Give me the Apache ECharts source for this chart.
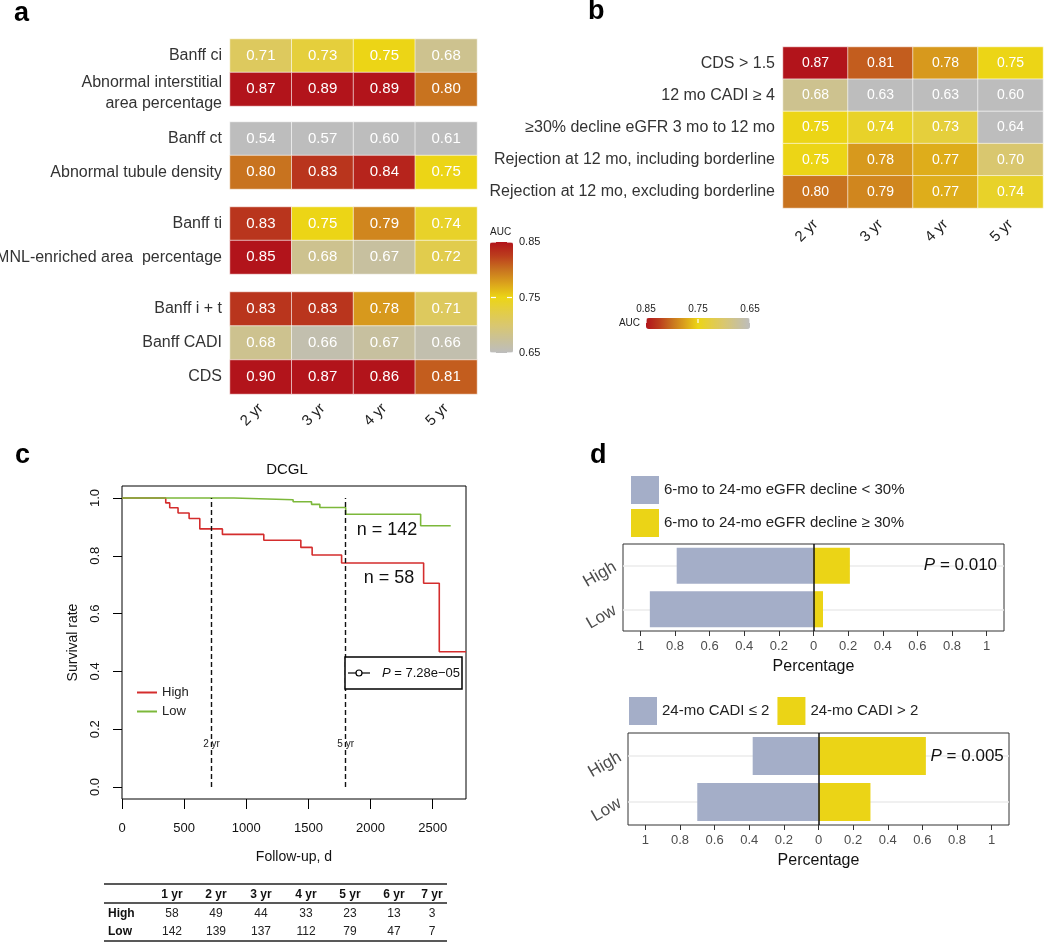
<!DOCTYPE html>
<html><head><meta charset="utf-8">
<script src="https://cdn.jsdelivr.net/npm/echarts@6/dist/echarts.min.js"></script>
<style>html,body{margin:0;padding:0;background:#fff}#c{width:1050px;height:942px}</style>
</head><body><div id="c"></div>
<script>
// ---------------- DATA ----------------
const years = ['2 yr', '3 yr', '4 yr', '5 yr'];
const aRows1 = ['Banff ci', 'Abnormal interstitial\narea percentage'];
const aVals1 = [[0.71, 0.73, 0.75, 0.68], [0.87, 0.89, 0.89, 0.80]];
const aRows2 = ['Banff ct', 'Abnormal tubule density'];
const aVals2 = [[0.54, 0.57, 0.60, 0.61], [0.80, 0.83, 0.84, 0.75]];
const aRows3 = ['Banff ti', 'MNL-enriched area  percentage'];
const aVals3 = [[0.83, 0.75, 0.79, 0.74], [0.85, 0.68, 0.67, 0.72]];
const aRows4 = ['Banff i + t', 'Banff CADI', 'CDS'];
const aVals4 = [[0.83, 0.83, 0.78, 0.71], [0.68, 0.66, 0.67, 0.66], [0.90, 0.87, 0.86, 0.81]];
const bRows = ['CDS > 1.5', '12 mo CADI \u2265 4', '\u226530% decline eGFR 3 mo to 12 mo',
  'Rejection at 12 mo, including borderline', 'Rejection at 12 mo, excluding borderline'];
const bVals = [[0.87, 0.81, 0.78, 0.75], [0.68, 0.63, 0.63, 0.60], [0.75, 0.74, 0.73, 0.64],
  [0.75, 0.78, 0.77, 0.70], [0.80, 0.79, 0.77, 0.74]];
const aucTicks = [0.85, 0.75, 0.65];

const kmHighDays = [0, 352, 384, 451, 540, 626, 808, 1141, 1439, 1530, 1767, 2427, 2553, 2768];
const kmHighSurv = [1, 0.983, 0.966, 0.948, 0.929, 0.893, 0.874, 0.854, 0.829, 0.803, 0.775, 0.705, 0.468, 0.468];
const kmLowDays = [0, 900, 1377, 1525, 1592, 1800, 2403, 2645];
const kmLowSurv = [1, 0.994, 0.987, 0.978, 0.967, 0.944, 0.904, 0.904];
const kmMarkDays = [720, 1800];
const kmMarkLabels = ['2 yr', '5 yr'];
const kmP = '7.28e\u221205';
const kmXTicks = [0, 500, 1000, 1500, 2000, 2500];
const kmYTicks = [0, 0.2, 0.4, 0.6, 0.8, 1.0];
const tableYears = ['1 yr', '2 yr', '3 yr', '4 yr', '5 yr', '6 yr', '7 yr'];
const atRiskHigh = [58, 49, 44, 33, 23, 13, 3];
const atRiskLow = [142, 139, 137, 112, 79, 47, 7];

const dGroups = ['High', 'Low'];
const dTopNames = ['6-mo to 24-mo eGFR decline < 30%', '6-mo to 24-mo eGFR decline \u2265 30%'];
const dTopBelow = [0.79, 0.945];
const dTopAbove = [0.21, 0.055];
const dTopP = '0.010';
const dBotNames = ['24-mo CADI \u2264 2', '24-mo CADI > 2'];
const dBotBelow = [0.38, 0.70];
const dBotAbove = [0.62, 0.30];
const dBotP = '0.005';
const dTicks = [-1, -0.8, -0.6, -0.4, -0.2, 0, 0.2, 0.4, 0.6, 0.8, 1];

// ---------------- STYLE / LAYOUT ----------------
const FONT = '"Liberation Sans", Arial, Helvetica, sans-serif';
const heatColors = ['#bdbdbd', '#cac197', '#d9c76f', '#e3cd45', '#ecd516', '#dba31c', '#c8731f', '#bb3d1d', '#b2141b'];
const AUC_MIN = 0.65, AUC_MAX = 0.85;
const clamp = v => Math.min(AUC_MAX, Math.max(AUC_MIN, v));
const heatData = vals => { const o = []; vals.forEach((row, r) => row.forEach((v, c) => o.push([c, r, v, clamp(v)]))); return o; };

const aGroups = [
  { rows: aRows1, vals: aVals1, top: 39, height: 67 },
  { rows: aRows2, vals: aVals2, top: 122, height: 67 },
  { rows: aRows3, vals: aVals3, top: 207, height: 67 },
  { rows: aRows4, vals: aVals4, top: 292, height: 102 }
];
const RED = '#d42d2d', GREEN = '#7cb83a', BLUE = '#a4aec8', YEL = '#ebd416';

const grids = [], xAxes = [], yAxes = [], series = [];
aGroups.forEach((g, i) => {
  grids.push({ left: 230, top: g.top, width: 247, height: g.height, outerBoundsMode: 'none' });
  xAxes.push({ type: 'category', gridIndex: i, data: years, show: i === 3,
    axisLine: { show: false }, axisTick: { show: false },
    axisLabel: { rotate: 45, fontSize: 15, color: '#222', margin: 12 } });
  yAxes.push({ type: 'category', gridIndex: i, data: g.rows, inverse: true,
    axisLine: { show: false }, axisTick: { show: false },
    axisLabel: { fontSize: 16, color: '#333', margin: 8, lineHeight: 21,
      padding: i === 0 ? [0, 0, 0, 0] : 0,
      formatter: v => v.indexOf('\n') >= 0 ? '{two|' + v.split('\n').join('}\n{two|') + '}' : v,
      rich: { two: { fontSize: 16, color: '#333', lineHeight: 21, padding: [7, 0, 0, 0] } } } });
  series.push({ type: 'heatmap', xAxisIndex: i, yAxisIndex: i, data: heatData(g.vals),
    label: { show: true, color: '#fff', fontSize: 15, formatter: p => p.value[2].toFixed(2) },
    itemStyle: { borderColor: 'rgba(255,255,255,0.6)', borderWidth: 1 }, emphasis: { disabled: true } });
});
// panel b
grids.push({ left: 783, top: 47, width: 260, height: 161, outerBoundsMode: 'none' });
xAxes.push({ type: 'category', gridIndex: 4, data: years, axisLine: { show: false }, axisTick: { show: false },
  axisLabel: { rotate: 45, fontSize: 15, color: '#222', margin: 14 } });
yAxes.push({ type: 'category', gridIndex: 4, data: bRows, inverse: true, axisLine: { show: false }, axisTick: { show: false },
  axisLabel: { fontSize: 16, color: '#333', margin: 8 } });
series.push({ type: 'heatmap', xAxisIndex: 4, yAxisIndex: 4, data: heatData(bVals),
  label: { show: true, color: '#fff', fontSize: 14, formatter: p => p.value[2].toFixed(2) },
  itemStyle: { borderColor: 'rgba(255,255,255,0.6)', borderWidth: 1 }, emphasis: { disabled: true } });

// panel c
grids.push({ left: 122, top: 486, width: 344, height: 313, show: true, borderColor: '#000', borderWidth: 1, outerBoundsMode: 'none' });
xAxes.push({ type: 'value', gridIndex: 5, min: 0, max: 2768, axisLine: { show: false, onZero: false }, splitLine: { show: false },
  axisTick: { show: true, length: 10, lineStyle: { color: '#000' }, customValues: kmXTicks },
  axisLabel: { fontSize: 13, color: '#111', margin: 23, customValues: kmXTicks, formatter: v => String(v) },
  name: 'Follow-up, d', nameLocation: 'middle', nameGap: 51, nameTextStyle: { fontSize: 14, color: '#111' } });
yAxes.push({ type: 'value', gridIndex: 5, min: -0.0415, max: 1.0415, axisLine: { show: false, onZero: false }, splitLine: { show: false },
  axisTick: { show: true, length: 9, lineStyle: { color: '#000' }, customValues: kmYTicks },
  axisLabel: { fontSize: 13, color: '#111', margin: 20, rotate: 90, customValues: kmYTicks, formatter: v => v.toFixed(1) },
  name: 'Survival rate', nameLocation: 'middle', nameGap: 42, nameTextStyle: { fontSize: 14, color: '#111' } });
const zip = (a, b) => a.map((v, i) => [v, b[i]]);
series.push({ type: 'line', name: 'High', xAxisIndex: 5, yAxisIndex: 5, data: zip(kmHighDays, kmHighSurv), step: 'end',
  symbol: 'none', silent: true, lineStyle: { color: RED, width: 1.6 }, itemStyle: { color: RED }, z: 3,
  markPoint: { silent: true, symbol: 'rect', symbolSize: 1, itemStyle: { color: 'rgba(0,0,0,0)' },
    label: { show: true, position: 'inside', formatter: p => p.name, color: '#111', fontSize: 18 },
    data: [{ coord: [2148, 0.723], name: 'n = ' + atRiskHigh[0] }].concat(kmMarkDays.map((d, i) => ({
      coord: [d, 0.149], name: kmMarkLabels[i], label: { fontSize: 10, color: '#222' } }))) } });
series.push({ type: 'line', name: 'Low', xAxisIndex: 5, yAxisIndex: 5, data: zip(kmLowDays, kmLowSurv), step: 'end',
  symbol: 'none', silent: true, lineStyle: { color: GREEN, width: 1.6 }, itemStyle: { color: GREEN }, z: 3,
  markLine: { silent: true, symbol: 'none', label: { show: false }, lineStyle: { color: '#111', width: 1.4, type: [5, 3] },
    data: kmMarkDays.map(d => [{ coord: [d, 0] }, { coord: [d, 1] }]) },
  markPoint: { silent: true, symbol: 'rect', symbolSize: 1, itemStyle: { color: 'rgba(0,0,0,0)' },
    label: { show: true, position: 'inside', formatter: p => p.name, color: '#111', fontSize: 18 },
    data: [{ coord: [2132, 0.889], name: 'n = ' + atRiskLow[0] }] } });

// panel d
const dPanels = [
  { names: dTopNames, below: dTopBelow, above: dTopAbove, p: dTopP, grid: { left: 623, top: 544, width: 381, height: 87 }, pX: 1.06 },
  { names: dBotNames, below: dBotBelow, above: dBotAbove, p: dBotP, grid: { left: 628, top: 733, width: 381, height: 92 }, pX: 1.07 }
];
dPanels.forEach((d, k) => {
  const gi = 6 + k;
  grids.push(Object.assign({ show: true, borderColor: '#333', borderWidth: 1, outerBoundsMode: 'none' }, d.grid));
  xAxes.push({ type: 'value', gridIndex: gi, min: -1.1, max: 1.1, axisLine: { show: false, onZero: false }, splitLine: { show: false },
    axisTick: { show: true, length: 5, lineStyle: { color: '#333' }, customValues: dTicks },
    axisLabel: { fontSize: 13, color: '#4d4d4d', margin: 9, customValues: dTicks, formatter: v => String(Math.abs(Math.round(v * 10) / 10)) },
    name: 'Percentage', nameLocation: 'middle', nameGap: 28, nameTextStyle: { fontSize: 16, color: '#111' } });
  yAxes.push({ type: 'category', gridIndex: gi, data: dGroups, inverse: true, axisLine: { show: false, onZero: false }, axisTick: { show: false },
    axisLabel: { rotate: 30, fontSize: 17, color: '#4d4d4d', margin: 8 } });
  series.push({ type: 'bar', name: d.names[0], xAxisIndex: gi, yAxisIndex: gi, stack: 'd' + k, barWidth: '83%',
    data: d.below.map(v => -v), itemStyle: { color: BLUE }, silent: true, z: 2,
    markLine: { silent: true, z: 1, symbol: 'none', label: { show: false }, lineStyle: { color: '#ebebeb', width: 1.5, type: 'solid' },
      data: dGroups.map((g, i) => ({ yAxis: i })) } });
  series.push({ type: 'bar', name: d.names[1], xAxisIndex: gi, yAxisIndex: gi, stack: 'd' + k, barWidth: '83%',
    data: d.above, itemStyle: { color: YEL }, silent: true, z: 2,
    markLine: { silent: true, symbol: 'none', label: { show: false }, lineStyle: { color: '#111', width: 1.5, type: 'solid' },
      data: [{ xAxis: 0 }] },
    markPoint: { silent: true, symbol: 'rect', symbolSize: 1, itemStyle: { color: 'rgba(0,0,0,0)' },
      label: { show: true, position: 'inside', align: 'right', formatter: '{i|P} = ' + d.p, fontSize: 17, color: '#111',
        rich: { i: { fontStyle: 'italic', fontSize: 17, color: '#111' } } },
      data: [{ coord: [d.pX, 0] }] } });
});

// ---------------- GRAPHICS (labels, colourbar ticks, table) ----------------
const G = [];
const txt = (x, y, text, o = {}) => G.push({ type: 'text', x, y, silent: true, z: 10, style: Object.assign({
  text, fill: o.fill || '#222', fontSize: o.size || 12, fontFamily: FONT, fontWeight: o.weight || 'normal',
  align: o.align || 'left', textAlign: o.align || 'left', verticalAlign: o.va || 'middle', textVerticalAlign: o.va || 'middle' }, o.extra || {}) });
const line = (x1, y1, x2, y2, stroke, w) => G.push({ type: 'line', silent: true, z: 10, shape: { x1, y1, x2, y2 }, style: { stroke, lineWidth: w } });

// panel letters
[['a', 14, 14], ['b', 588, 12], ['c', 15, 456], ['d', 590, 456]].forEach(([t, x, y]) => txt(x, y, t, { size: 27, weight: 'bold', fill: '#000' }));

// colourbar a (vertical)
const vmA = { left: 490, top: 242, w: 23, h: 111 };
const vmB = { left: 646, top: 318, w: 104, h: 11 };
txt(vmA.left, vmA.top - 10, 'AUC', { size: 10 });
aucTicks.forEach(v => {
  const y = vmA.top + (AUC_MAX - v) / (AUC_MAX - AUC_MIN) * vmA.h;
  txt(vmA.left + vmA.w + 6, y, v.toFixed(2), { size: 11 });
  line(vmA.left + 1, y, vmA.left + 6, y, '#fff', 1.2);
  line(vmA.left + vmA.w - 6, y, vmA.left + vmA.w - 1, y, '#fff', 1.2);
});
// colourbar b (horizontal, reversed)
txt(vmB.left - 6, vmB.top + vmB.h / 2, 'AUC', { size: 10, align: 'right' });
aucTicks.forEach(v => {
  const x = vmB.left + (AUC_MAX - v) / (AUC_MAX - AUC_MIN) * vmB.w;
  txt(x, vmB.top - 9, v.toFixed(2), { size: 10, align: 'center' });
  line(x, vmB.top + 1, x, vmB.top + 5, '#fff', 1.2);
});

// panel c extras
txt(287, 470, 'DCGL', { size: 15, align: 'center', fill: '#111' });
G.push({ type: 'rect', silent: true, z: 9, shape: { x: 345, y: 657, width: 117, height: 32 }, style: { fill: '#fff', stroke: '#000', lineWidth: 1.5 } });
line(348, 673, 370, 673, '#000', 1.2);
G.push({ type: 'circle', silent: true, z: 10, shape: { cx: 359, cy: 673, r: 3 }, style: { fill: '#fff', stroke: '#000', lineWidth: 1.2 } });
txt(382, 673, '{i|P} = ' + kmP, { size: 13, fill: '#111', extra: { rich: { i: { fontStyle: 'italic', fontSize: 13, fontFamily: FONT, fill: '#111' } } } });

// at-risk table
const tColX = [172, 216, 261, 306, 350, 394, 432];
line(104, 884, 447, 884, '#222', 1.5);
line(104, 903, 447, 903, '#222', 1.5);
line(104, 941, 447, 941, '#222', 1.5);
tableYears.forEach((t, i) => txt(tColX[i], 895, t, { size: 12, weight: 'bold', align: 'center', fill: '#111' }));
txt(108, 914, 'High', { size: 12, weight: 'bold', fill: '#111' });
txt(108, 932, 'Low', { size: 12, weight: 'bold', fill: '#111' });
atRiskHigh.forEach((v, i) => txt(tColX[i], 914, String(v), { size: 12, align: 'center' }));
atRiskLow.forEach((v, i) => txt(tColX[i], 932, String(v), { size: 12, align: 'center' }));

const option = {
  animation: false,
  textStyle: { fontFamily: FONT },
  grid: grids, xAxis: xAxes, yAxis: yAxes, series,
  visualMap: [
    { type: 'continuous', seriesIndex: [0, 1, 2, 3], dimension: 3, min: AUC_MIN, max: AUC_MAX, orient: 'vertical',
      left: vmA.left, top: vmA.top, itemWidth: vmA.w, itemHeight: vmA.h, padding: 0, calculable: false, hoverLink: false,
      inRange: { color: heatColors } },
    { type: 'continuous', seriesIndex: [4], dimension: 3, min: AUC_MIN, max: AUC_MAX, orient: 'horizontal', inverse: true,
      left: vmB.left, top: vmB.top, itemWidth: vmB.h, itemHeight: vmB.w, padding: 0, calculable: false, hoverLink: false,
      inRange: { color: heatColors } }
  ],
  legend: [
    { data: ['High', 'Low'], orient: 'vertical', left: 137, top: 686, icon: 'rect', itemWidth: 20, itemHeight: 2, itemGap: 6,
      padding: 0, selectedMode: false, textStyle: { fontSize: 13, color: '#222' } },
    { data: dTopNames, orient: 'vertical', left: 631, top: 476, icon: 'rect', itemWidth: 28, itemHeight: 28, itemGap: 5,
      padding: 0, selectedMode: false, textStyle: { fontSize: 15, color: '#222' } },
    { data: dBotNames, orient: 'horizontal', left: 629, top: 697, icon: 'rect', itemWidth: 28, itemHeight: 28, itemGap: 8,
      padding: 0, selectedMode: false, textStyle: { fontSize: 15, color: '#222' } }
  ],
  graphic: G
};
const chart = echarts.init(document.getElementById('c'), null, { width: 1050, height: 942 });
chart.setOption(option);
</script></body></html>
